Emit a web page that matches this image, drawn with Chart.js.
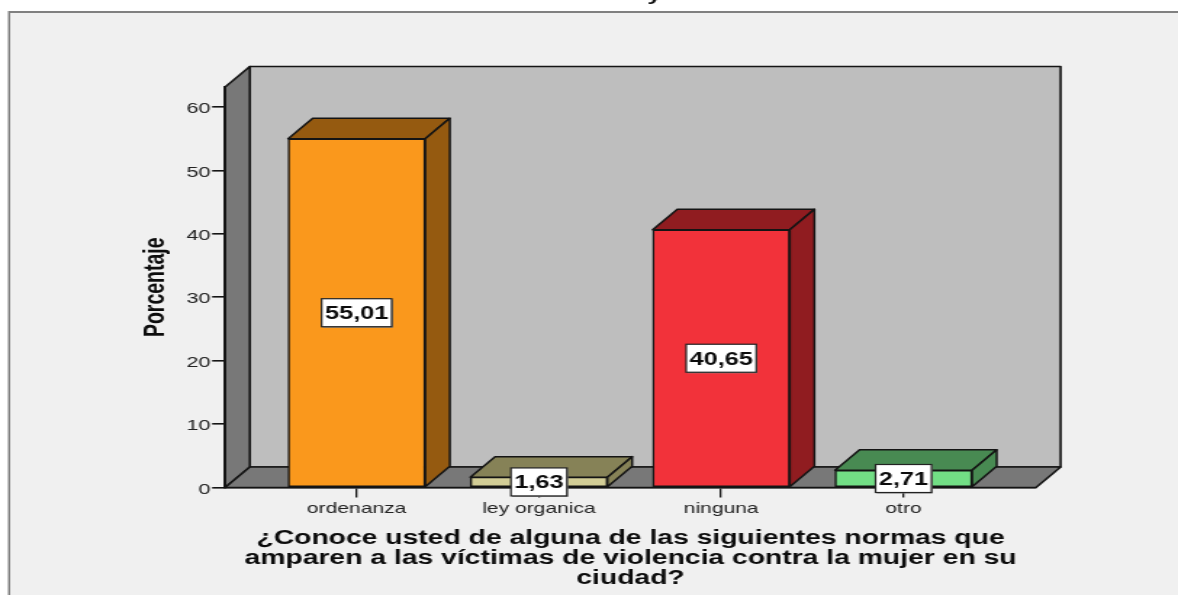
<!DOCTYPE html>
<html lang="es">
<head>
<meta charset="utf-8">
<title>Normas que amparan a las víctimas</title>
<script src="https://cdn.jsdelivr.net/npm/chart.js@4/dist/chart.umd.min.js"></script>
<style>
    html, body { margin: 0; padding: 0; background: #fff; overflow: hidden; width: 1178px; height: 595px; }
    /* the original picture is a screenshot stretched sideways, so the whole canvas gets stretched too */
    #chart { display: block; transform-origin: 0 0; transform: scaleX(1.45074); }
</style>
</head>
<body>
<canvas id="chart" width="812" height="595"></canvas>
<script>
const categories = ['ordenanza', 'ley organica', 'ninguna', 'otro'];
const values = [55.01, 1.63, 40.65, 2.71];
const yTicks = [0, 10, 20, 30, 40, 50, 60];
const titleLines = [
    '¿Conoce usted de alguna de las siguientes normas que',
    'amparen a las víctimas de violencia contra la mujer en su',
    'ciudad?'
];
const frontColors = ['#fa981c', '#d2cd96', '#f2323a', '#72de85'];
const darkColors = ['#955a10', '#868257', '#901c20', '#488a52'];

const DEPTH_X = 17;
const DEPTH_Y = -20.5;
const LINE = '#141414';
const FONT = '"Liberation Sans", Arial, sans-serif';

function polygon(ctx, points, fill) {
    ctx.beginPath();
    points.forEach((p, i) => i ? ctx.lineTo(p[0], p[1]) : ctx.moveTo(p[0], p[1]));
    ctx.closePath();
    ctx.fillStyle = fill;
    ctx.fill();
    ctx.stroke();
}

// Page frame and the box walls behind the bars
const wallsPlugin = {
    id: 'walls',
    beforeDraw(chart) {
        const ctx = chart.ctx;
        const { left, right, top, bottom } = chart.chartArea;
        ctx.save();
        ctx.fillStyle = '#f0f0f0';
        ctx.fillRect(6, 12, chart.width, chart.height);
        ctx.fillStyle = '#808080';
        ctx.fillRect(6, 11, chart.width, 2);
        ctx.fillRect(5.5, 11, 1.5, chart.height);

        // clipped line of the original heading
        ctx.fillStyle = '#111';
        ctx.font = 'bold 17px ' + FONT;
        ctx.textAlign = 'center';
        ctx.textBaseline = 'alphabetic';
        ctx.fillText('y', 451, 1);

        ctx.strokeStyle = LINE;
        ctx.lineWidth = 1.6;
        ctx.lineJoin = 'round';
        polygon(ctx, [[left + DEPTH_X, top + DEPTH_Y], [right + DEPTH_X, top + DEPTH_Y],
            [right + DEPTH_X, bottom + DEPTH_Y], [left + DEPTH_X, bottom + DEPTH_Y]], '#bebebe');
        polygon(ctx, [[left, top], [left + DEPTH_X, top + DEPTH_Y],
            [left + DEPTH_X, bottom + DEPTH_Y], [left, bottom]], '#787878');
        polygon(ctx, [[left, bottom], [left + DEPTH_X, bottom + DEPTH_Y],
            [right + DEPTH_X, bottom + DEPTH_Y], [right, bottom]], '#787878');
        ctx.restore();
    },
    // top and side of every bar, taken from the bar elements
    beforeDatasetsDraw(chart) {
        const ctx = chart.ctx;
        ctx.save();
        ctx.strokeStyle = LINE;
        ctx.lineWidth = 1.5;
        ctx.lineJoin = 'round';
        chart.getDatasetMeta(0).data.forEach((bar, i) => {
            const x1 = bar.x - bar.width / 2;
            const x2 = bar.x + bar.width / 2;
            polygon(ctx, [[x1, bar.y], [x1 + DEPTH_X, bar.y + DEPTH_Y],
                [x2 + DEPTH_X, bar.y + DEPTH_Y], [x2, bar.y]], darkColors[i]);
            polygon(ctx, [[x2, bar.y], [x2 + DEPTH_X, bar.y + DEPTH_Y],
                [x2 + DEPTH_X, bar.base + DEPTH_Y], [x2, bar.base]], darkColors[i]);
        });
        ctx.restore();
    },
    // value boxes on top of the bars
    afterDatasetsDraw(chart) {
        const ctx = chart.ctx;
        ctx.save();
        ctx.font = 'bold 17.5px ' + FONT;
        ctx.textAlign = 'center';
        ctx.textBaseline = 'middle';
        chart.getDatasetMeta(0).data.forEach((bar, i) => {
            const label = values[i].toFixed(2).replace('.', ',');
            const w = ctx.measureText(label).width + 4.5;
            const h = 28;
            const cy = (bar.y + bar.base) / 2;
            ctx.fillStyle = '#8a8a8a';
            ctx.fillRect(bar.x - w / 2 + 0.8, cy - h / 2 + 1, w, h);
            ctx.fillStyle = '#fff';
            ctx.strokeStyle = '#222';
            ctx.lineWidth = 1.2;
            ctx.fillRect(bar.x - w / 2, cy - h / 2, w, h);
            ctx.strokeRect(bar.x - w / 2, cy - h / 2, w, h);
            ctx.fillStyle = '#0c0c0c';
            ctx.fillText(label, bar.x, cy + 1.5);
        });
        ctx.restore();
    }
};

const ctx = document.getElementById('chart').getContext('2d');
new Chart(ctx, {
    type: 'bar',
    data: {
        datasets: [{
            data: categories.map((c, i) => ({ x: i, y: values[i] })),
            backgroundColor: frontColors,
            borderColor: LINE,
            borderWidth: 1.5,
            borderSkipped: false,
            barThickness: 94.5
        }]
    },
    options: {
        responsive: false,
        animation: false,
        layout: { padding: { top: 87, right: 97.9, bottom: 0, left: 0 } },
        plugins: { legend: { display: false }, tooltip: { enabled: false }, title: { display: false } },
        scales: {
            x: {
                type: 'linear',
                offset: false,
                min: -0.7212,
                max: 3.7267,
                afterBuildTicks: scale => { scale.ticks = categories.map((c, i) => ({ value: i })); },
                afterFit: scale => { scale.height = 107.5; },
                grid: { offset: false, drawOnChartArea: false, drawTicks: true, tickLength: 10, color: LINE, lineWidth: 1.3 },
                border: { display: true, color: LINE, width: 1.6 },
                ticks: {
                    callback: value => categories[value],
                    autoSkip: false,
                    maxRotation: 0,
                    includeBounds: false,
                    padding: 2.5,
                    color: '#222',
                    font: { family: FONT, size: 14.5 }
                },
                title: {
                    display: true,
                    text: titleLines,
                    color: '#0c0c0c',
                    padding: { top: 0, bottom: 6.5 },
                    font: { family: FONT, size: 19.5, weight: 'bold', lineHeight: 20 / 19.5 }
                }
            },
            y: {
                min: 0,
                max: 63.17,
                afterBuildTicks: scale => { scale.ticks = yTicks.map(v => ({ value: v })); },
                afterFit: scale => { scale.width = 155.2; },
                grid: { drawOnChartArea: false, drawTicks: true, tickLength: 9, color: LINE, lineWidth: 1.6 },
                border: { display: true, color: LINE, width: 1.6 },
                ticks: {
                    includeBounds: false,
                    padding: 1,
                    labelOffset: 2,
                    color: '#222',
                    font: { family: FONT, size: 15 }
                },
                title: {
                    display: true,
                    text: 'Porcentaje',
                    color: '#0c0c0c',
                    padding: { top: 96, bottom: 0 },
                    font: { family: FONT, size: 19.5, weight: 'bold', lineHeight: 1.2 }
                }
            }
        }
    },
    plugins: [wallsPlugin]
});
</script>
</body>
</html>
